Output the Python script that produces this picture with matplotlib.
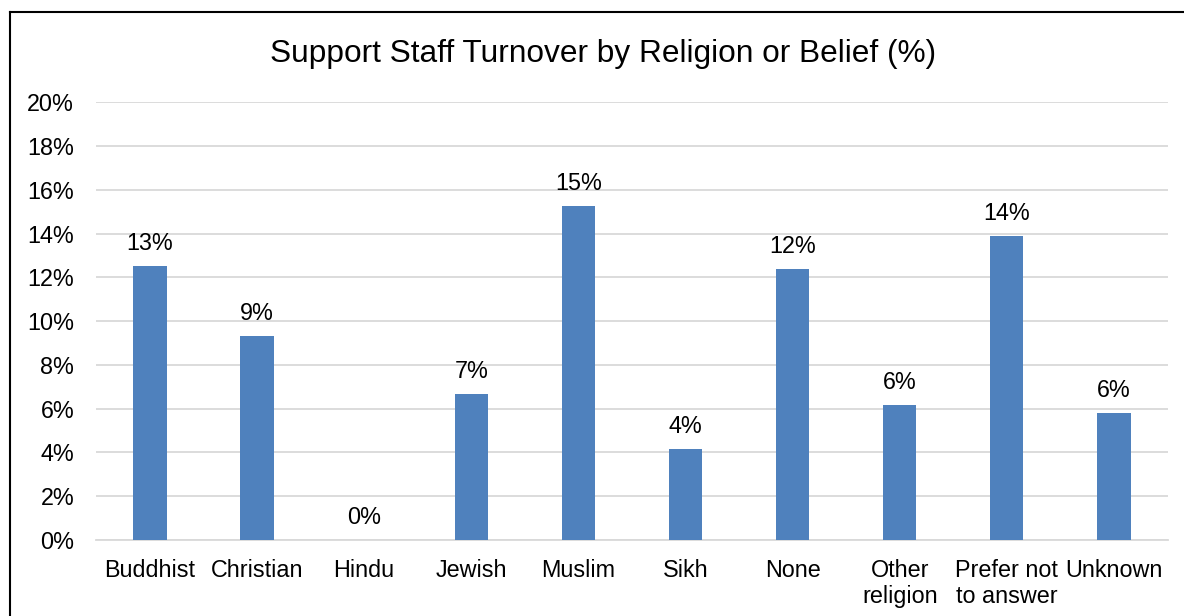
import matplotlib.pyplot as plt
from matplotlib.lines import Line2D
from matplotlib.ticker import FuncFormatter

# Turnover rate per group, percent
religions = ["Buddhist", "Christian", "Hindu", "Jewish", "Muslim", "Sikh",
             "None", "Other\nreligion", "Prefer not\nto answer", "Unknown"]
turnover = [12.52, 9.32, 0.0, 6.66, 15.26, 4.16, 12.37, 6.17, 13.88, 5.78]

plt.rcParams['font.family'] = ['Liberation Sans', 'DejaVu Sans']

fig = plt.figure(figsize=(11.84, 6.16), dpi=100)
ax = fig.add_axes([0.0814, 0.1234, 0.9047, 0.7105])

x = range(len(religions))
ax.bar(x, turnover, width=0.31, color='#4f81bd', zorder=3)

for xi, v in zip(x, turnover):
    ax.annotate(f"{v:.0f}%", (xi, v), xytext=(0, 8), textcoords='offset points',
                ha='center', va='bottom', fontsize=16.8, color='#000000')

ax.set_xlim(-0.5, len(religions) - 0.5)
ax.set_ylim(0, 20)
ax.set_yticks(range(0, 21, 2))
ax.yaxis.set_major_formatter(FuncFormatter(lambda v, p: f"{v:.0f}%"))
ax.set_xticks(list(x))
ax.set_xticklabels(religions, fontsize=16.8, linespacing=1.15)
ax.tick_params(axis='y', labelsize=16.8, length=0, pad=16)
ax.tick_params(axis='x', length=0, pad=14)

ax.grid(axis='y', color='#d9d9d9', linewidth=1.3, zorder=0)
for side in ['left', 'right', 'top']:
    ax.spines[side].set_visible(False)
ax.spines['bottom'].set_color('#d9d9d9')
ax.spines['bottom'].set_linewidth(1.3)

fig.text(0.509, 1 - 62 / 616, "Support Staff Turnover by Religion or Belief (%)",
         ha='center', va='baseline', fontsize=22.8)

# chart frame (left and top edges)
fx = 10 / 1184
fy = 1 - 12 / 616
fig.add_artist(Line2D([fx, fx], [0, fy], color='black', linewidth=1.5))
fig.add_artist(Line2D([fx, 1], [fy, fy], color='black', linewidth=1.5))

fig.savefig("out.png", dpi=100)
